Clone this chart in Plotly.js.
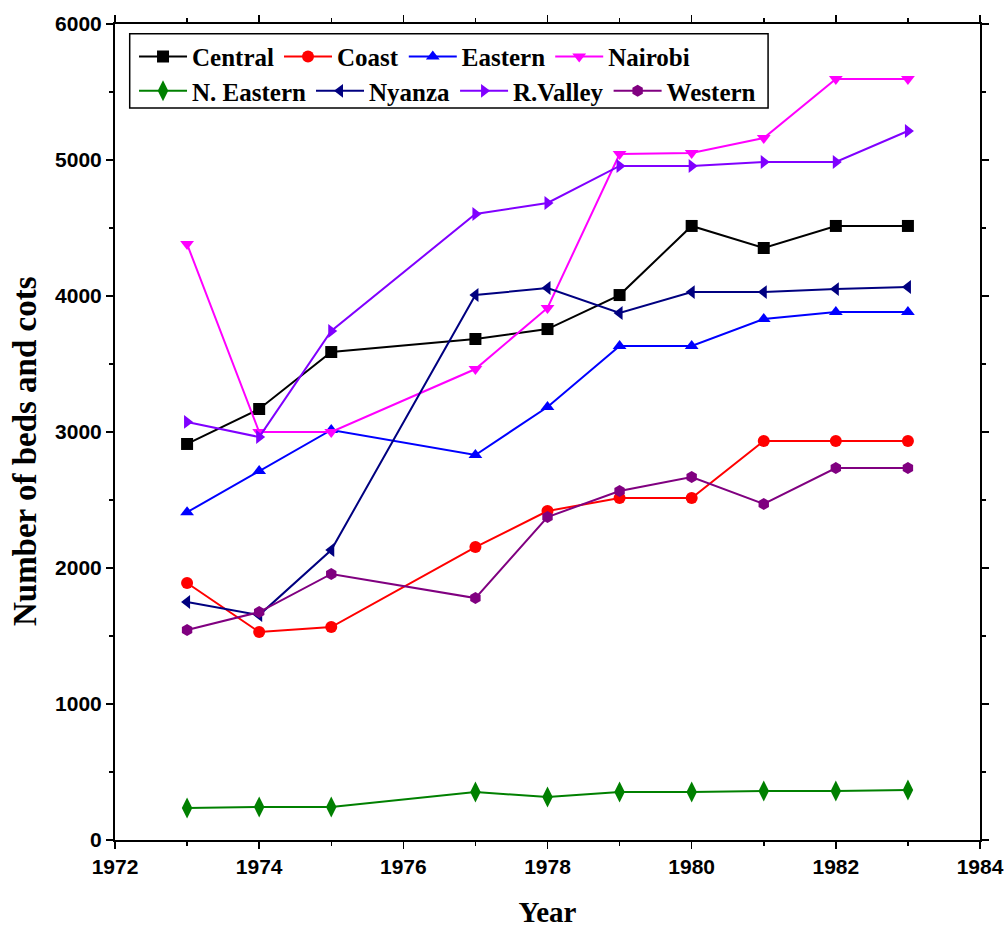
<!DOCTYPE html>
<html>
<head>
<meta charset="utf-8">
<script src="https://cdn.plot.ly/plotly-3.0.1.min.js"></script>
<style>html,body{margin:0;padding:0;background:#fff;}#chart{width:1007px;height:929px;}</style>
</head>
<body>
<div id="chart"></div>
<script>
const years = [1973, 1974, 1975, 1977, 1978, 1979, 1980, 1981, 1982, 1983];
const central   = [2912, 3169, 3588, 3684, 3757, 4007, 4515, 4353, 4515, 4515];
const coast     = [1890, 1529, 1566, 2154, 2419, 2515, 2515, 2934, 2934, 2934];
const eastern   = [2410, 2713, 3015, 2831, 3184, 3632, 3632, 3831, 3882, 3882];
const nairobi   = [4382, 3000, 3000, 3463, 3912, 5044, 5051, 5162, 5596, 5596];
const nEastern  = [235, 243, 243, 353, 316, 353, 353, 360, 360, 368];
const nyanza    = [1750, 1654, 2132, 4007, 4059, 3875, 4029, 4029, 4051, 4066];
const rValley   = [3074, 2963, 3743, 4603, 4684, 4956, 4956, 4985, 4985, 5213];
const western   = [1544, 1676, 1956, 1779, 2375, 2566, 2669, 2471, 2735, 2735];

const series = [
  {name: 'Central', y: central, color: '#000000', symbol: 'square', legend: 'legend'},
  {name: 'Coast', y: coast, color: '#ff0000', symbol: 'circle', legend: 'legend'},
  {name: 'Eastern', y: eastern, color: '#0000ff', symbol: 'triangle-up', legend: 'legend'},
  {name: 'Nairobi', y: nairobi, color: '#ff00ff', symbol: 'triangle-down', legend: 'legend'},
  {name: 'N. Eastern', y: nEastern, color: '#008000', symbol: 'diamond-tall', legend: 'legend2'},
  {name: 'Nyanza', y: nyanza, color: '#000080', symbol: 'triangle-left', legend: 'legend2'},
  {name: 'R.Valley', y: rValley, color: '#8000ff', symbol: 'triangle-right', legend: 'legend2'},
  {name: 'Western', y: western, color: '#800080', symbol: 'hexagon', legend: 'legend2'}
];

const traces = series.map(s => ({
  type: 'scatter', mode: 'lines+markers', name: s.name, x: years, y: s.y,
  legend: s.legend,
  line: {color: s.color, width: 2},
  marker: {color: s.color, symbol: s.symbol, size: s.symbol === 'diamond-tall' ? 15 : 12}
}));

const tickFont = {family: 'Liberation Sans, Arial, sans-serif', size: 21, color: '#000', weight: 'bold'};
const legFont = {family: 'Liberation Serif, Times New Roman, serif', size: 25, color: '#000', weight: 'bold'};
const titleFont = {family: 'Liberation Serif, Times New Roman, serif', size: 29, color: '#000', weight: 'bold'};
const yTitleFont = {family: 'Liberation Serif, Times New Roman, serif', size: 33, color: '#000', weight: 'bold'};

const axisCommon = {
  showline: true, linecolor: '#000', linewidth: 2, mirror: 'ticks',
  ticks: 'outside', ticklen: 7, tickwidth: 1.5, tickcolor: '#000',
  showgrid: false, zeroline: false, tickfont: tickFont
};

const layout = {
  width: 1007, height: 929,
  margin: {l: 115, r: 27, t: 24, b: 89},
  paper_bgcolor: '#fff', plot_bgcolor: '#fff',
  showlegend: true,
  xaxis: Object.assign({}, axisCommon, {
    range: [1972, 1984], dtick: 2, tick0: 1972,
    minor: {dtick: 1, ticks: 'outside', ticklen: 4, tickcolor: '#000', tickwidth: 1.5},
    title: {text: 'Year', font: titleFont, standoff: 24}
  }),
  yaxis: Object.assign({}, axisCommon, {
    range: [0, 6000], dtick: 1000,
    minor: {dtick: 500, ticks: 'outside', ticklen: 4, tickcolor: '#000', tickwidth: 1.5}
  }),
  annotations: [{
    text: 'Number of beds and cots', xref: 'paper', yref: 'paper',
    x: -0.104, y: 0.4767, xanchor: 'center', yanchor: 'middle',
    textangle: -90, showarrow: false, font: yTitleFont
  }],
  legend: {
    orientation: 'h', x: 0.022, y: 0.988, xanchor: 'left', yanchor: 'top',
    font: legFont, bgcolor: 'rgba(0,0,0,0)', itemwidth: 48, tracegroupgap: 0
  },
  legend2: {
    orientation: 'h', x: 0.022, y: 0.946, xanchor: 'left', yanchor: 'top',
    font: legFont, bgcolor: 'rgba(0,0,0,0)', itemwidth: 48, tracegroupgap: 0
  },
  shapes: [{
    type: 'rect', xref: 'paper', yref: 'paper',
    x0: 0.017, x1: 0.755, y0: 0.897, y1: 0.988,
    line: {color: '#000', width: 1.5}, fillcolor: 'rgba(0,0,0,0)'
  }]
};

Plotly.newPlot('chart', traces, layout, {displayModeBar: false, staticPlot: true});
</script>
</body>
</html>
